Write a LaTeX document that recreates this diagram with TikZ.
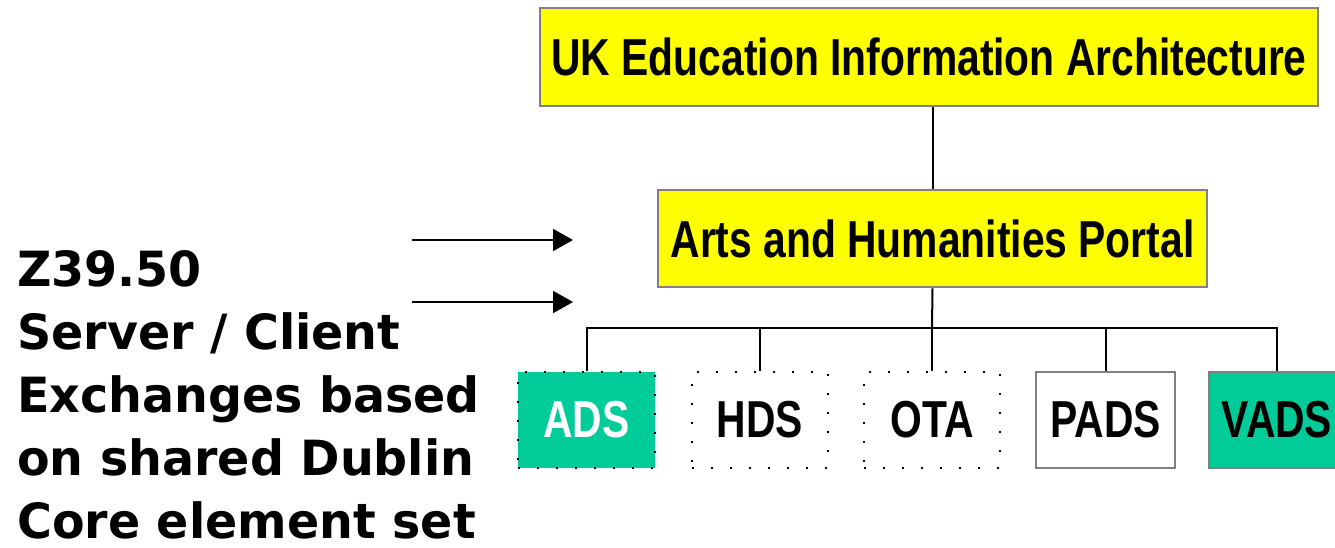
\documentclass[tikz,border=0pt]{standalone}
\usepackage{fontspec}
\newfontfamily\narrowfont[FakeStretch=0.785]{Liberation Sans}
\newfontfamily\leftfont[FakeStretch=0.98]{DejaVu Sans}
\usetikzlibrary{arrows.meta}
\definecolor{boxyellow}{RGB}{255,255,0}
\definecolor{boxteal}{RGB}{0,204,153}
\definecolor{boxgray}{RGB}{128,128,128}
\tikzset{
  toptext/.style={font=\narrowfont\bfseries\fontsize{52}{60}\selectfont},
  ybox/.style={rectangle, draw=boxgray, line width=2.5pt, fill=boxyellow, inner sep=0pt, toptext},
  leaf/.style={rectangle, inner sep=0pt, minimum height=96pt, toptext},
  dotbox/.style={leaf, draw=black, line width=2pt, dash pattern=on 2pt off 17pt},
  graybox/.style={leaf, draw=boxgray, line width=2.5pt},
  link/.style={line width=2pt, black},
  arr/.style={line width=2pt, -{Triangle[length=20pt,width=22pt]}},
}
\begin{document}
\begin{tikzpicture}[x=1pt,y=-1pt]
\useasboundingbox (0,0) rectangle (1335,547);
\node[ybox, minimum width=778pt, minimum height=98pt] (uk) at (929,57) {UK Education Information Architecture};
\node[ybox, minimum width=549pt, minimum height=97pt] (ah) at (932.5,238.5) {Arts and Humanities Portal};
\node[dotbox, fill=boxteal, text=white, minimum width=137pt] (ads) at (586.5,420) {ADS};
\node[dotbox, minimum width=136pt] (hds) at (760,420) {HDS};
\node[dotbox, minimum width=136pt] (ota) at (932,420) {OTA};
\node[graybox, minimum width=139pt] (pads) at (1105.5,420) {PADS};
\node[graybox, fill=boxteal, minimum width=136pt] (vads) at (1277,420) {VADS};
\coordinate (bus) at (932,328);
\draw[link] (uk.south -| ah.north) -- (ah.north);
\draw[link] (ah.south) -- (bus);
\draw[link] (ads.north) |- (bus) -| (vads.north);
\draw[link] (hds.north) -- (hds.north |- bus);
\draw[link] (ota.north) -- (ota.north |- bus);
\draw[link] (pads.north) -- (pads.north |- bus);
\coordinate (a1s) at (412,240);
\coordinate (a1e) at (573,240);
\coordinate (a2s) at (412,302);
\coordinate (a2e) at (573,302);
\draw[arr] (a1s) -- (a1e);
\draw[arr] (a2s) -- (a2e);
\node[anchor=north west, inner sep=0pt, align=left, font=\leftfont\bfseries\fontsize{48.5}{63}\selectfont] (z) at (17,250)
  {Z39.50\\Server / Client\\Exchanges based\\on shared Dublin\\Core element set};
\end{tikzpicture}
\end{document}
